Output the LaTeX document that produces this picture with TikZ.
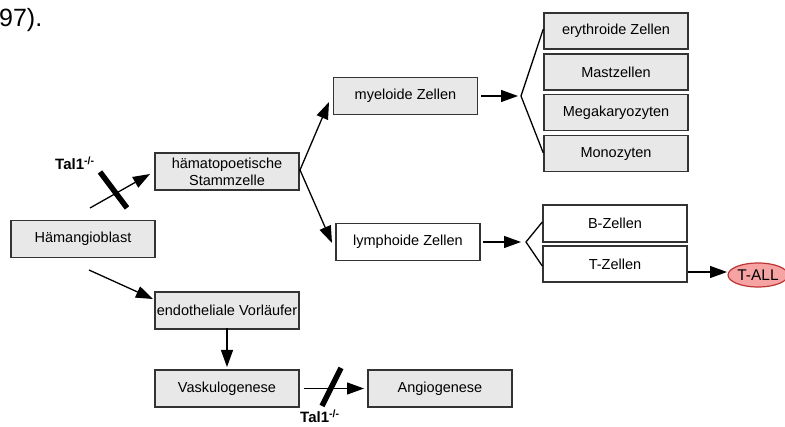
\documentclass[tikz,border=0pt]{standalone}
\usepackage{fontspec}
\setmainfont{Liberation Sans}
\usetikzlibrary{arrows.meta,positioning,shapes.geometric}
\definecolor{BoxClr}{rgb}{0.91,0.91,0.91}
\definecolor{LineClr}{rgb}{0.2,0.2,0.2}
\definecolor{TallClr}{rgb}{0.96,0.64,0.64}
\definecolor{TallLine}{rgb}{0.75,0.2,0.2}

\tikzset{
  cellbox/.style={draw=LineClr,line width=1.4pt,fill=BoxClr,minimum width=144pt,
    minimum height=37pt,inner sep=1pt,font=\fontsize{14.5}{17}\selectfont,align=center},
  whitebox/.style={cellbox,fill=white},
  flow/.style={line width=1.3pt,-{Triangle[length=17pt,width=12pt]}},
  brace/.style={line width=1.3pt},
  block/.style={line width=5.5pt},
  knockout/.style={font=\fontsize{15}{16}\selectfont\bfseries}
}

\begin{document}
\begin{tikzpicture}[x=1pt,y=-1pt]
\useasboundingbox (0,0) rectangle (785,427);

\node[anchor=base west,inner sep=0pt,font=\fontsize{25}{26}\selectfont] (cite) at (-1,27) {97).};

% Left part: the precursor and its two branches.
\node[cellbox] (haem) at (83,239) {Hämangioblast};
\node[cellbox] (stamm) at (227,171.5) {hämatopoetische\\Stammzelle};
\node[cellbox] (endo) at (227,310.5) {endotheliale Vorläufer};
\node[cellbox] (vasku) at (227,388.5) {Vaskulogenese};
\node[cellbox] (angio) at (440,388.5) {Angiogenese};

% Middle column.
\node[cellbox] (myelo) at (405.5,96) {myeloide Zellen};
\node[whitebox] (lympho) at (408,242) {lymphoide Zellen};

% Right column: the cell lines.
\node[cellbox,minimum height=36pt] (ery) at (616,31) {erythroide Zellen};
\node[cellbox,minimum height=36pt,below=3.5pt of ery] (mast) {Mastzellen};
\node[cellbox,minimum height=36pt,below=3.5pt of mast] (mega) {Megakaryozyten};
\node[cellbox,minimum height=36pt,below=3.5pt of mega] (mono) {Monozyten};

\node[whitebox,minimum height=37pt] (bz) at (615,223.5) {B-Zellen};
\node[whitebox,minimum height=36pt,below=2.5pt of bz] (tz) {T-Zellen};

\node[ellipse,draw=TallLine,fill=TallClr,line width=1.2pt,minimum width=60pt,
  minimum height=24pt,inner sep=0pt,font=\fontsize{15.5}{16}\selectfont] (tall) at (758,275) {T-ALL};

% Branch points and free ends.
\coordinate (fork) at (300,170);
\coordinate (myv) at (521,96);
\coordinate (lyv) at (526,242);

% Arrows.
\draw[flow] (90,208) -- (150,174);
\draw[flow] (89,270) -- (153,299);
\draw[line width=1.3pt] (stamm.east) -- (fork);
\draw[flow] (fork) -- (329,102);
\draw[flow] (fork) -- (332,243);
\draw[flow] (481,96) -- (518,96);
\draw[flow] (483,242) -- (521,242);
\draw[flow] (tz.east |- 0,272) -- (727,272);
\draw[flow] (endo.south) ++(0,-2) -- (227,367);
\draw[flow] (vasku.east) ++(4,0) -- (364,388.5);

% Brackets.
\draw[brace] (ery.west |- 0,29) -- (myv) -- (mono.west |- 0,153);
\draw[brace] (bz.west |- 0,222) -- (lyv) -- (tz.west |- 0,266);

% Blocked steps.
\draw[block] (100,172) -- (127,208);
\draw[block] (341,368) -- (322,406);
\node[knockout,anchor=base west,inner sep=0pt] (tal1a) at (55,170) {Tal1\textsuperscript{-/-}};
\node[knockout,anchor=base west,inner sep=0pt] (tal1b) at (300,423) {Tal1\textsuperscript{-/-}};
\end{tikzpicture}
\end{document}
